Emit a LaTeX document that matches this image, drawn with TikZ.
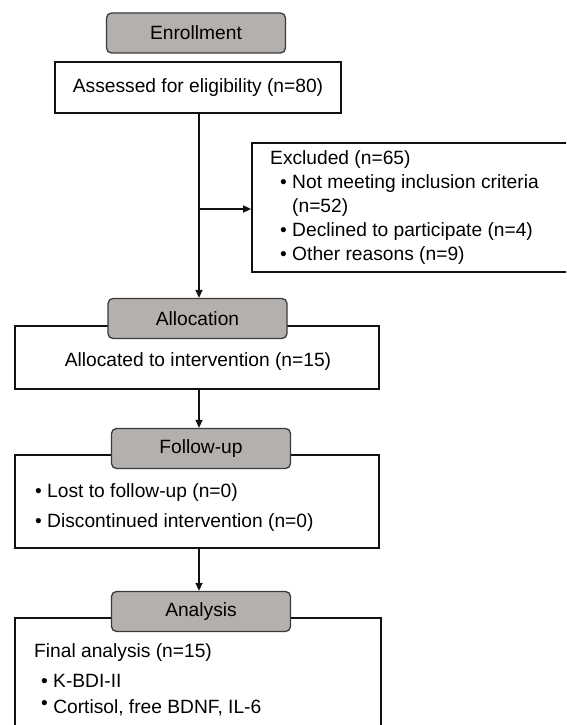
\documentclass[tikz,border=0pt]{standalone}
\usepackage{fontspec}
\setmainfont{Liberation Sans}
\usetikzlibrary{arrows.meta}
\definecolor{hdrfill}{HTML}{B3B0AE}
\definecolor{hdrline}{HTML}{3A3A3A}
\definecolor{ink}{HTML}{111111}
\begin{document}
\begin{tikzpicture}[x=1pt,y=-1pt,
  font=\fontsize{19.2pt}{23pt}\selectfont, text=black,
  box/.style={draw=ink, line width=1.7pt, fill=white, rectangle, inner sep=0pt},
  hdr/.style={draw=hdrline, line width=1.3pt, fill=hdrfill, rounded corners=5pt, inner sep=0pt,
    minimum width=179pt, minimum height=40pt},
  txt/.style={anchor=west, inner sep=0pt},
  arr/.style={draw=ink, line width=1.4pt, -{Triangle[length=8pt,width=7pt]}}]
\useasboundingbox (0,0) rectangle (566,725);
\clip (0,0) rectangle (566,725);
\fill[white] (0,0) rectangle (566,725);

% boxes
\node[box, minimum width=286pt, minimum height=51pt] (assess) at (198,87.5) {Assessed for eligibility (n=80)};
\node[box, minimum width=348pt, minimum height=129pt] (excl) at (426,207.5) {};
\node[box, minimum width=364pt, minimum height=63pt] (alloc) at (197,357.5) {};
\node[box, minimum width=364pt, minimum height=93pt] (follow) at (197,501.5) {};
\node[box, minimum width=366pt, minimum height=150pt] (anal) at (198,693) {};

% headers
\node[hdr] (h1) at (196,33) {Enrollment};
\node[hdr] (h2) at (197.5,318.5) {Allocation};
\node[hdr] (h3) at (201,448.5) {Follow-up};
\node[hdr] (h4) at (201,611.5) {Analysis};

% texts
\node[txt] (e0) at (270,160) {Excluded (n=65)};
\node[txt] (e1) at (280,184) {\textbullet\ Not meeting inclusion criteria};
\node[txt] (e2) at (292,208) {(n=52)};
\node[txt] (e3) at (280,232) {\textbullet\ Declined to participate (n=4)};
\node[txt] (e4) at (280,256) {\textbullet\ Other reasons (n=9)};

\node (a1) at (198,362) {Allocated to intervention (n=15)};

\node[txt] (f1) at (35,493) {\textbullet\ Lost to follow-up (n=0)};
\node[txt] (f2) at (35,523) {\textbullet\ Discontinued intervention (n=0)};

\node[txt] (n1) at (34,653) {Final analysis (n=15)};
\node[txt] (n2) at (41,681) {\textbullet\ K-BDI-II};
\node[txt] (n3) at (41,708) {\raisebox{4pt}{\textbullet}\ Cortisol, free BDNF, IL-6};

% connectors
\coordinate (br) at (199,209);
\draw[arr] (assess.south -| br) -- (h2.north -| br);
\draw[arr] (br) -- (br -| excl.west);
\draw[arr] (alloc.south -| br) -- (h3.north -| br);
\draw[arr] (follow.south -| br) -- (h4.north -| br);
\end{tikzpicture}
\end{document}
